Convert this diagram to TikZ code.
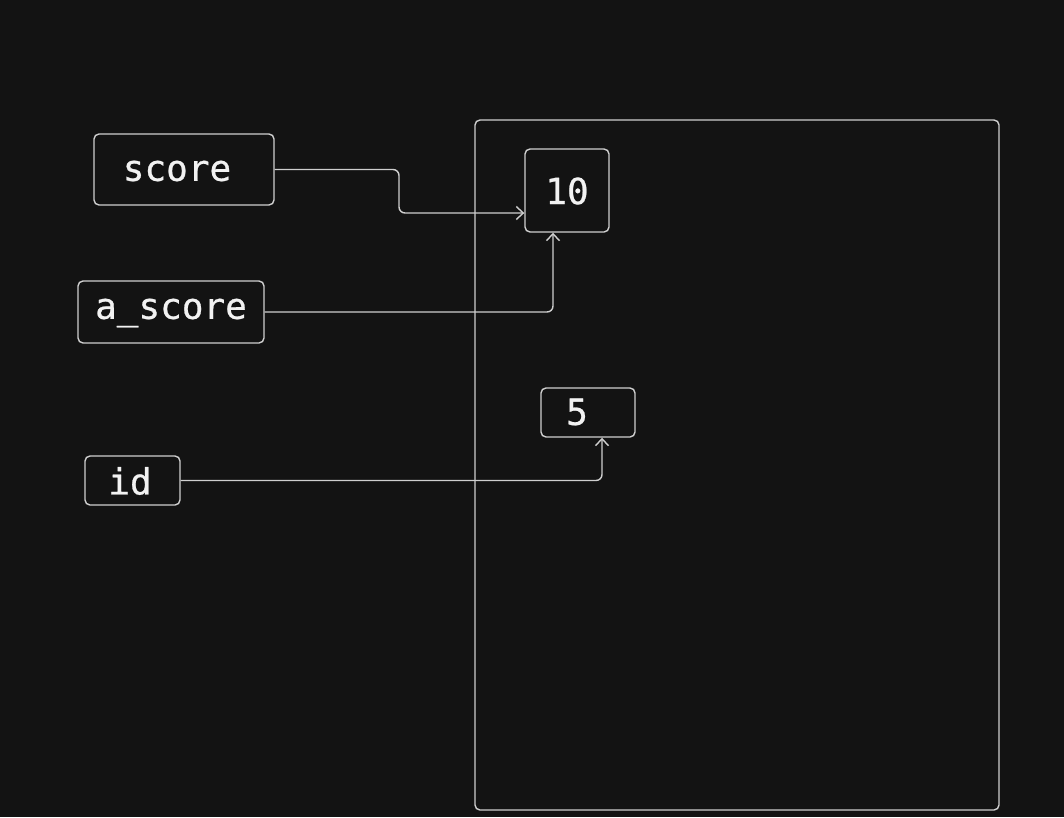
\documentclass[tikz,border=0pt]{standalone}
\usepackage{fontspec}
\setmonofont[FakeBold=0.7]{DejaVu Sans Mono}
\usetikzlibrary{arrows.meta}
\definecolor{bg}{HTML}{131313}
\definecolor{ln}{HTML}{CFCFCF}
\definecolor{tx}{HTML}{F2F2F2}
\begin{document}
\begin{tikzpicture}[x=1pt,y=-1pt,
  box/.style={draw=ln, line width=1.4pt, rounded corners=5pt, inner sep=0pt},
  lbl/.style={text=tx, font=\ttfamily\fontsize{36}{40}\selectfont, inner sep=0pt},
  conn/.style={draw=ln, line width=1.4pt, rounded corners=6pt, -{Straight Barb[length=7pt,width=13pt,line width=1.4pt]}}
]
\fill[bg] (0,0) rectangle (1064,817);
\useasboundingbox (0,0) rectangle (1064,817);
% memory region
\node[box, minimum width=524pt, minimum height=690pt] (mem) at (737,465) {};
% variable boxes
\node[box, minimum width=180pt, minimum height=71pt] (score) at (184,169.5) {};
\node[lbl] (scoreT) at (177,171) {score};
\node[box, minimum width=186pt, minimum height=62pt] (ascore) at (171,312) {};
\node[lbl] (ascoreT) at (171,313) {a\_score};
\node[box, minimum width=95pt, minimum height=49pt] (id) at (132.5,480.5) {};
\node[lbl] (idT) at (130,481) {id};
% value boxes
\node[box, minimum width=84pt, minimum height=83pt] (ten) at (567,190.5) {};
\node[lbl] (tenT) at (567,191) {10};
\node[box, minimum width=94pt, minimum height=49pt] (five) at (588,412.5) {};
\node[lbl] (fiveT) at (577,412) {5};
% connectors
\coordinate (c1) at (399,213);
\draw[conn] (score.east) -| (c1) -- (ten.west |- c1);
\draw[conn] (ascore.east) -| ([xshift=-14pt]ten.south);
\draw[conn] (id.east) -| ([xshift=14pt]five.south);
\end{tikzpicture}
\end{document}
